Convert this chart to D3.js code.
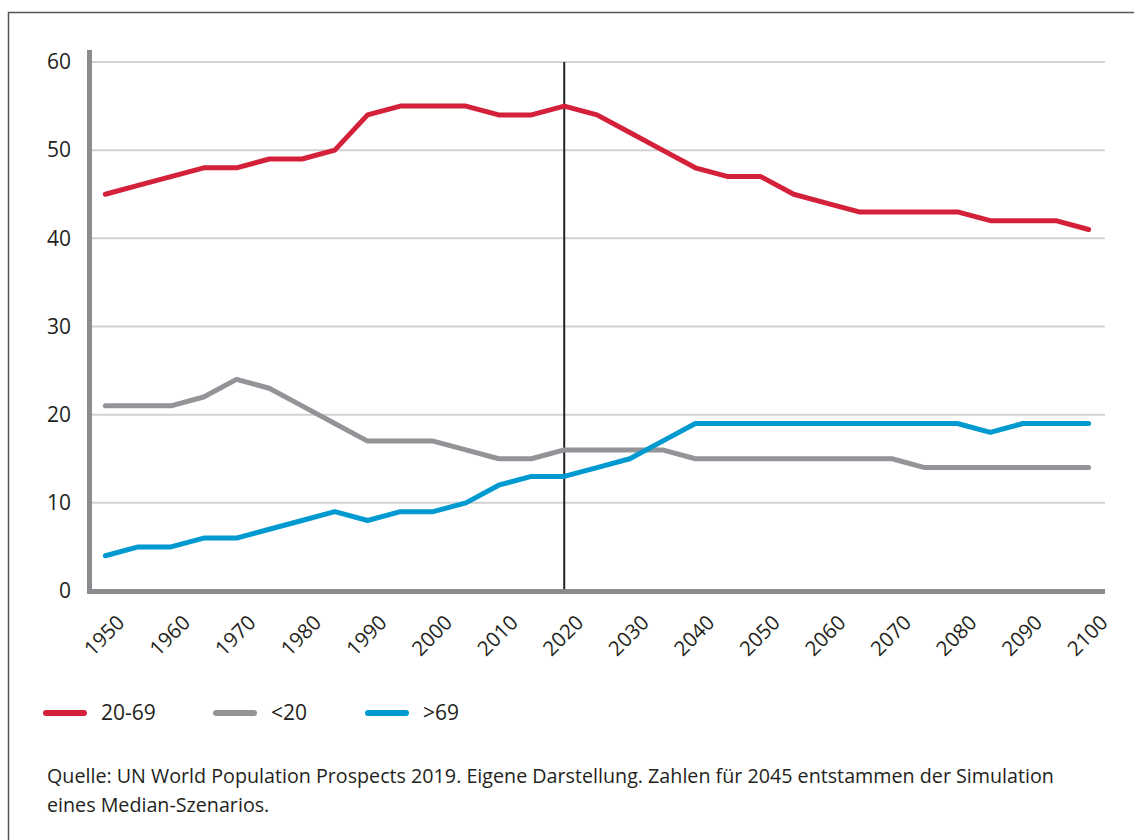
<!DOCTYPE html>
<html>
<head>
<meta charset="utf-8">
<script src="https://cdn.jsdelivr.net/npm/d3@7"></script>
<style>
	body { margin: 0; background: #fff; }
	svg { display: block; font-family: "Open Sans", "Noto Sans", sans-serif; }
</style>
</head>
<body>
<div id="chart_disp"></div>
<script>
// years, every 5 years
var years = [1950,1955,1960,1965,1970,1975,1980,1985,1990,1995,2000,2005,2010,2015,2020,
	2025,2030,2035,2040,2045,2050,2055,2060,2065,2070,2075,2080,2085,2090,2095,2100]

var age_20_69 = [45,46,47,48,48,49,49,50,54,55,55,55,54,54,55,
	54,52,50,48,47,47,45,44,43,43,43,43,42,42,42,41]
var age_u20 = [21,21,21,22,24,23,21,19,17,17,17,16,15,15,16,
	16,16,16,15,15,15,15,15,15,15,14,14,14,14,14,14]
var age_o69 = [4,5,5,6,6,7,8,9,8,9,9,10,12,13,13,
	14,15,17,19,19,19,19,19,19,19,19,19,18,19,19,19]

var year_ticks = [1950,1960,1970,1980,1990,2000,2010,2020,2030,2040,2050,2060,2070,2080,2090,2100]
var y_ticks = [0,10,20,30,40,50,60]
var series_names = ["20-69", "<20", ">69"]
var series_colors = ["#d4213a", "#949498", "#009ad0"]
var marker_year = 2020

var source_lines = [
	"Quelle: UN World Population Prospects 2019. Eigene Darstellung. Zahlen für 2045 entstammen der Simulation",
	"eines Median-Szenarios."]

function draw() {
	"use strict"

	var series = [age_20_69, age_u20, age_o69]

	var svg = d3.select("#chart_disp")
		.append("svg")
			.attr("width", 1134)
			.attr("height", 840);

	// outer frame (runs off the right and bottom edge)
	svg.append("rect")
		.attr("x", 8.5).attr("y", 12.5)
		.attr("width", 1140).attr("height", 840)
		.attr("fill", "none")
		.attr("stroke", "#555")
		.attr("stroke-width", 1.5)

	var x = d3.scalePoint()
		.domain(years)
		.range([89, 1105])
		.padding(0.5)

	var y = d3.scaleLinear()
		.domain([0, 60])
		.range([591, 62])

	// grid
	svg.append("g")
		.selectAll("line")
		.data(y_ticks.filter(function(d){return d > 0}))
		.enter()
		.append("line")
			.attr("x1", 92).attr("x2", 1105)
			.attr("y1", function(d){return y(d)})
			.attr("y2", function(d){return y(d)})
			.attr("stroke", "#d2d2d2")
			.attr("stroke-width", 2)

	// y labels
	var yaxis = svg.append("g")
		.attr("transform", "translate(89,0)")
		.call(d3.axisLeft(y).tickValues(y_ticks).tickSize(0).tickPadding(18))
	yaxis.select(".domain").remove()
	yaxis.selectAll("text")
		.attr("font-size", 21)
		.attr("font-family", "Open Sans")
		.attr("fill", "#231f20")

	// x labels, rotated
	var xaxis = svg.append("g")
		.attr("transform", "translate(0,591)")
		.call(d3.axisBottom(x).tickValues(year_ticks).tickSize(0))
	xaxis.select(".domain").remove()
	xaxis.selectAll("text")
		.attr("x", 0).attr("y", 0).attr("dy", null)
		.attr("text-anchor", "end")
		.attr("transform", "translate(20,33) rotate(-45)")
		.attr("font-size", 20.5)
		.attr("font-family", "Open Sans")
		.attr("fill", "#231f20")

	// 2020 marker
	svg.append("line")
		.attr("x1", x(marker_year)).attr("x2", x(marker_year))
		.attr("y1", y(60)).attr("y2", y(0))
		.attr("stroke", "#222")
		.attr("stroke-width", 2)

	var line = d3.line()
		.x(function(d, i){return x(years[i])})
		.y(function(d){return y(d)})

	svg.append("g")
		.selectAll("path")
		.data(series)
		.enter()
		.append("path")
			.attr("d", line)
			.attr("fill", "none")
			.attr("stroke", function(d, i){return series_colors[i]})
			.attr("stroke-width", 5)
			.attr("stroke-linejoin", "round")
			.attr("stroke-linecap", "round")

	// axis bars
	svg.append("line")
		.attr("x1", 89.5).attr("x2", 89.5)
		.attr("y1", 50).attr("y2", 594)
		.attr("stroke", "#8b8b8f")
		.attr("stroke-width", 5)
	svg.append("line")
		.attr("x1", 87).attr("x2", 1105)
		.attr("y1", 591.5).attr("y2", 591.5)
		.attr("stroke", "#8b8b8f")
		.attr("stroke-width", 5)

	// legend
	var legend_x = [46, 216, 368]
	var leg = svg.append("g")
		.selectAll("g")
		.data(series_names)
		.enter()
		.append("g")
			.attr("transform", function(d, i){return "translate(" + legend_x[i] + ",713)"})
	leg.append("line")
		.attr("x1", 0).attr("x2", 38)
		.attr("stroke", function(d, i){return series_colors[i]})
		.attr("stroke-width", 6)
		.attr("stroke-linecap", "round")
	leg.append("text")
		.attr("x", 55)
		.attr("dy", "0.35em")
		.attr("font-size", 21)
		.attr("fill", "#231f20")
		.text(function(d){return d})

	// source note
	svg.append("g")
		.selectAll("text")
		.data(source_lines)
		.enter()
		.append("text")
			.attr("x", 47)
			.attr("y", function(d, i){return 783 + i * 29})
			.attr("font-size", 19.7)
			.attr("fill", "#231f20")
			.text(function(d){return d})
}

draw()
</script>
</body>
</html>
